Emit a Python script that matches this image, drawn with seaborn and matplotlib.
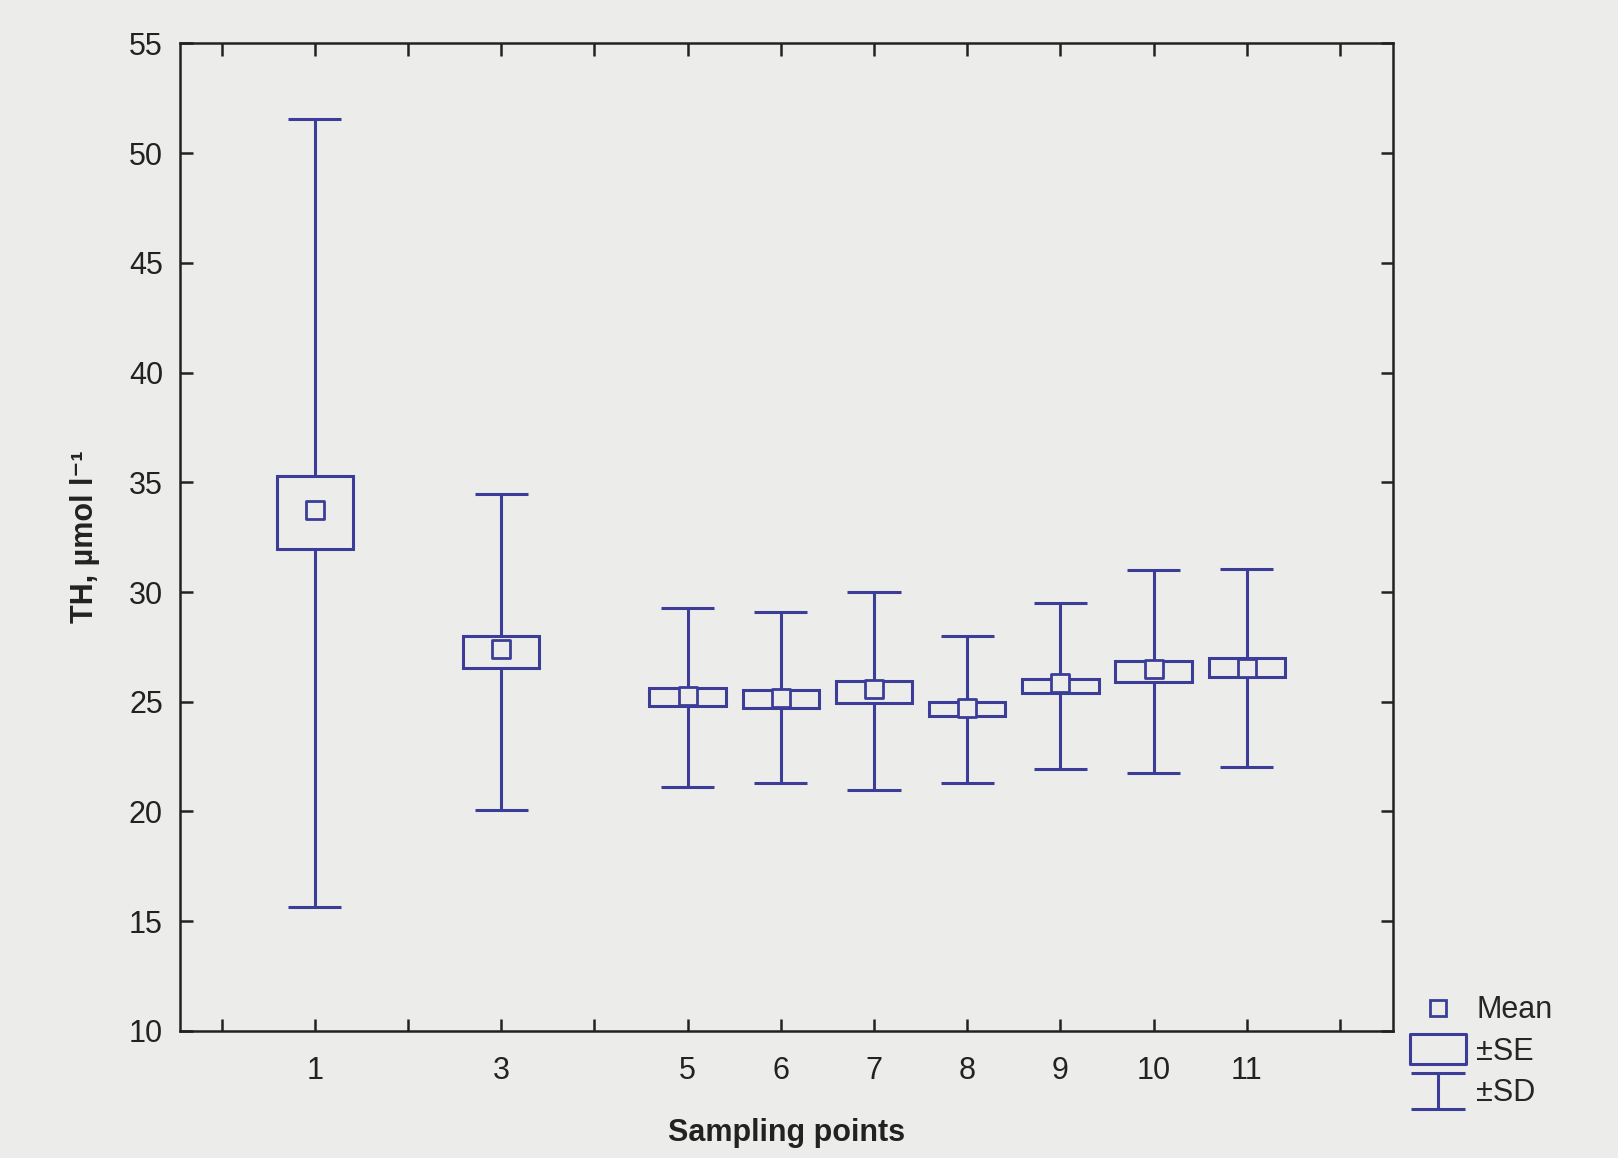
import numpy as np
import pandas as pd
import matplotlib
import matplotlib.pyplot as plt
import seaborn as sns
from matplotlib.patches import Rectangle
from matplotlib.lines import Line2D
from matplotlib.path import Path

matplotlib.use('Agg')

# sampling points and summary statistics
points = [1, 3, 5, 6, 7, 8, 9, 10, 11]
mean = [33.75, 27.4, 25.24, 25.15, 25.57, 24.72, 25.85, 26.51, 26.56]
se_low = [31.96, 26.56, 24.82, 24.72, 24.96, 24.35, 25.38, 25.90, 26.13]
se_high = [35.30, 28.01, 25.62, 25.52, 25.94, 25.00, 26.04, 26.84, 26.98]
sd_low = [15.65, 20.07, 21.10, 21.29, 21.00, 21.29, 21.95, 21.76, 22.04]
sd_high = [51.57, 34.45, 29.28, 29.10, 29.99, 28.01, 29.52, 30.98, 31.07]
y_ticks = [10, 15, 20, 25, 30, 35, 40, 45, 50, 55]

df = pd.DataFrame({'point': points, 'mean': mean, 'se_low': se_low, 'se_high': se_high,
                   'sd_low': sd_low, 'sd_high': sd_high})

blue = '#3b3d98'
bg = '#ececea'
box_w = 0.82
cap_w = 0.57
lw = 2.2

sns.set_style('ticks')
plt.rcParams['font.family'] = ['Liberation Sans', 'DejaVu Sans']

fig = plt.figure(figsize=(16.18, 11.58), dpi=100, facecolor=bg)
ax = fig.add_axes([0.111, 0.1097, 0.750, 0.8529])
ax.set_facecolor(bg)

# SD whiskers
ax.vlines(df['point'], df['sd_low'], df['sd_high'], color=blue, lw=lw, zorder=2)
ax.hlines(df['sd_low'], df['point'] - cap_w / 2, df['point'] + cap_w / 2, color=blue, lw=lw, zorder=2)
ax.hlines(df['sd_high'], df['point'] - cap_w / 2, df['point'] + cap_w / 2, color=blue, lw=lw, zorder=2)

# SE boxes
for _, r in df.iterrows():
    ax.add_patch(Rectangle((r['point'] - box_w / 2, r['se_low']), box_w, r['se_high'] - r['se_low'],
                           facecolor=bg, edgecolor=blue, lw=lw, zorder=3))

# means
sns.scatterplot(data=df, x='point', y='mean', marker='s', s=150, color=blue,
                linewidth=2, edgecolor=blue, ax=ax, zorder=4)
ax.collections[-1].set_facecolor(bg)

ax.set_xlim(-0.45, 12.57)
ax.set_ylim(10, 55)
ax.set_yticks(y_ticks)
ax.set_xticks(range(0, 13))
ax.set_xticklabels([str(i) if i in points else '' for i in range(0, 13)])
ax.tick_params(direction='in', length=9, width=1.8, colors='#222222', labelsize=22,
               top=True, right=True)
ax.tick_params(axis='x', pad=18)
ax.tick_params(axis='y', pad=12)
for s in ax.spines.values():
    s.set_linewidth(1.8)
    s.set_color('#222222')
    s.set_visible(True)

ax.set_xlabel('Sampling points', fontsize=22, fontweight='bold', color='#222222')
ax.set_ylabel('TH, µmol l⁻¹', fontsize=22, fontweight='bold', color='#222222')
ax.xaxis.set_label_coords(0.5, -0.088)
ax.yaxis.set_label_coords(-0.066, 0.5)

# legend
se_path = Path([(-1, -0.55), (1, -0.55), (1, 0.55), (-1, 0.55), (-1, -0.55)],
               [Path.MOVETO, Path.LINETO, Path.LINETO, Path.LINETO, Path.CLOSEPOLY])
sd_path = Path([(-1, 0.67), (1, 0.67), (0, 0.67), (0, -0.67), (-1, -0.67), (1, -0.67)],
               [Path.MOVETO, Path.LINETO, Path.MOVETO, Path.LINETO, Path.MOVETO, Path.LINETO])
handles = [
    Line2D([], [], ls='', marker='s', ms=11, mfc='none', mec=blue, mew=2),
    Line2D([], [], ls='', marker=se_path, ms=40, mfc='none', mec=blue, mew=lw),
    Line2D([], [], ls='', marker=sd_path, ms=39, mfc='none', mec=blue, mew=lw),
]
fig.legend(handles, ['Mean', '±SE', '±SD'], loc='lower left', bbox_to_anchor=(0.853, 0.019),
           frameon=False, fontsize=22, handlelength=2.0, handletextpad=0.25, labelspacing=0.38)

plt.savefig('out.png', dpi=100, facecolor=bg)
